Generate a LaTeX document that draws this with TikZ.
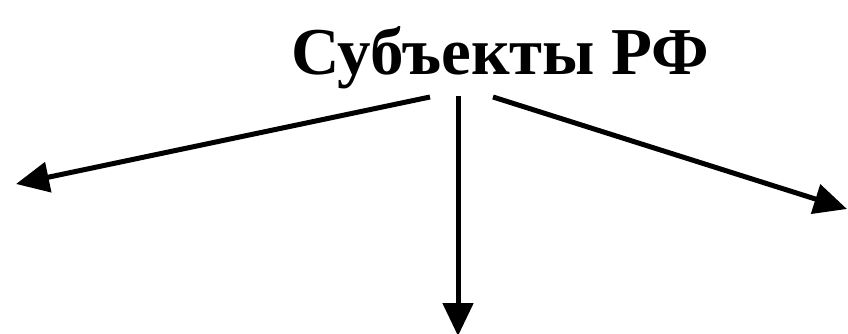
\documentclass[tikz,border=0pt]{standalone}
\usepackage{fontspec}
\setmainfont{Liberation Serif}
\usetikzlibrary{arrows.meta}
\begin{document}
\begin{tikzpicture}[x=1pt,y=-1pt,
  conn/.style={line width=5pt,-{Triangle[length=33pt,width=30pt]}},
  title/.style={font=\bfseries\fontsize{67}{67}\selectfont,inner sep=0pt,anchor=base}]
\useasboundingbox (0,0) rectangle (848,334);
\node[title] (t) at (500,75) {Субъекты РФ};
\coordinate (sl) at (430,97);
\coordinate (sm) at (458,96);
\coordinate (sr) at (493,97);
\coordinate (el) at (16,184);
\coordinate (em) at (458,336);
\coordinate (er) at (847,209);
\draw[conn] (sl) -- (el);
\draw[conn] (sm) -- (em);
\draw[conn] (sr) -- (er);
\end{tikzpicture}
\end{document}
